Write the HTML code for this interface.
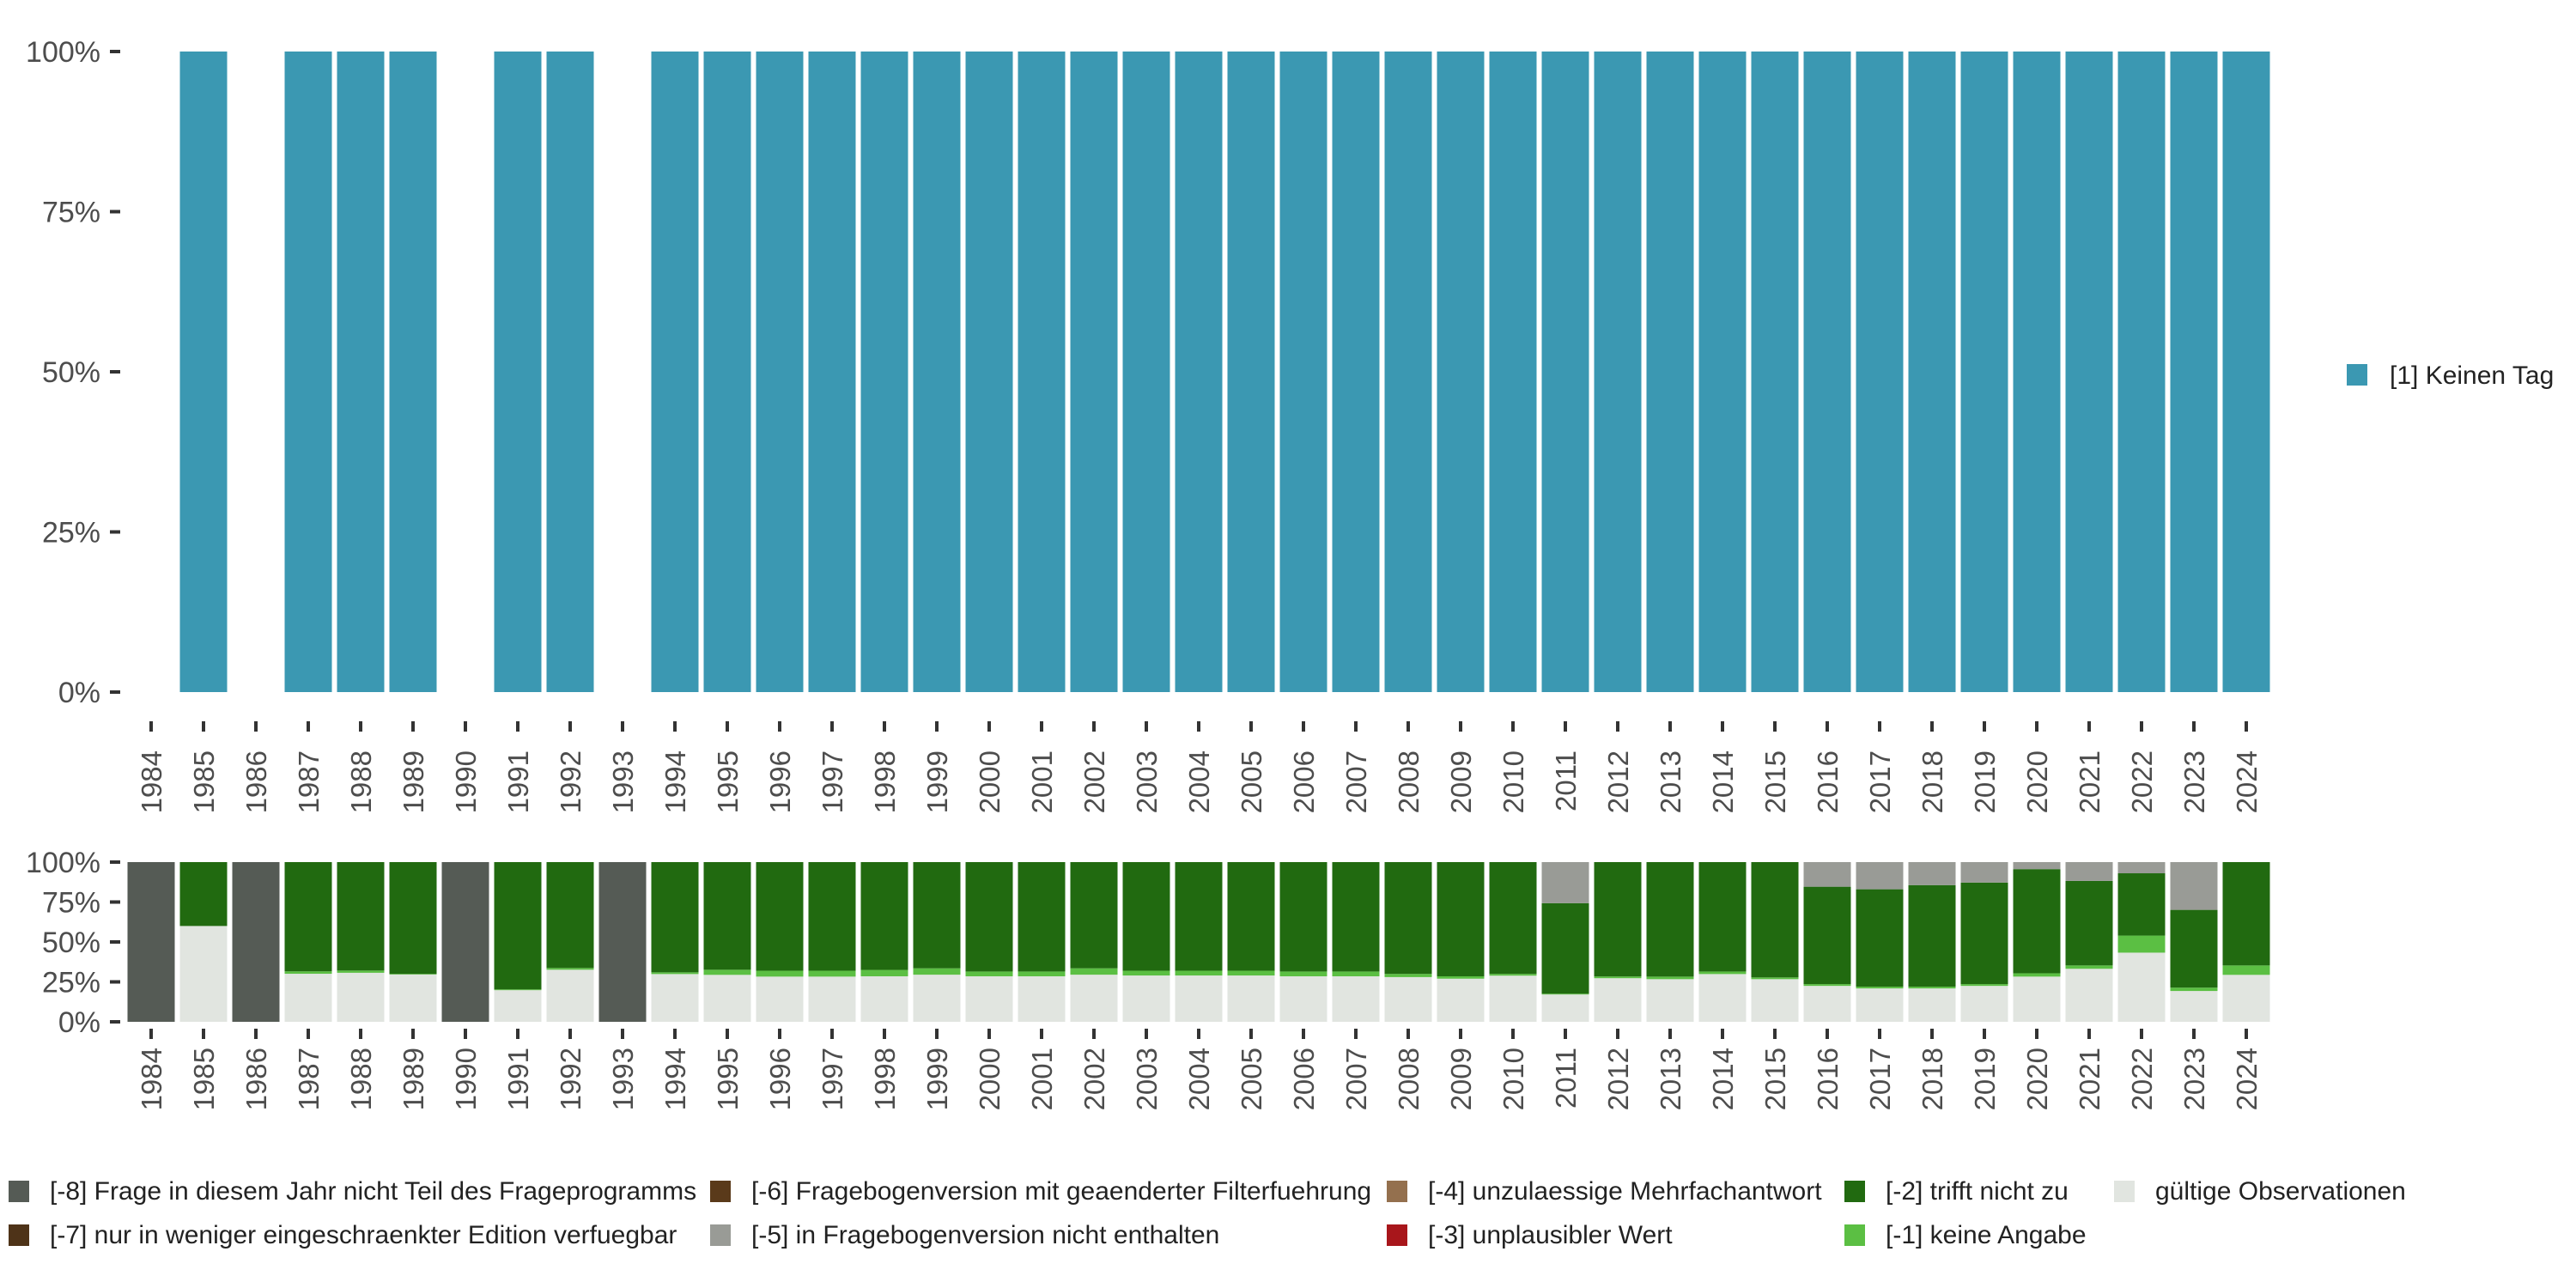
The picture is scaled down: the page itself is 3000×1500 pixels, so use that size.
<!DOCTYPE html>
<html><head><meta charset="utf-8"><style>
html,body{margin:0;padding:0;background:#fff;}
svg{display:block;font-family:"Liberation Sans",sans-serif;}
</style></head><body>
<svg id="chart" width="3000" height="1500" viewBox="0 0 3000 1500" xmlns="http://www.w3.org/2000/svg">
<g id="topChart"></g>
<g id="botChart"></g>
<g id="legR">
  <rect x="2733" y="424" width="24" height="25" fill="#3B98B2"/>
  <text x="2783" y="447" font-size="30" fill="#222">[1] Keinen Tag</text>
</g>
<g id="legB"></g>
</svg>
<script>
const years = [1984,1985,1986,1987,1988,1989,1990,1991,1992,1993,1994,1995,1996,1997,1998,1999,2000,2001,2002,2003,2004,2005,2006,2007,2008,2009,2010,2011,2012,2013,2014,2015,2016,2017,2018,2019,2020,2021,2022,2023,2024];
const topValues = [0,100,0,100,100,100,0,100,100,0,100,100,100,100,100,100,100,100,100,100,100,100,100,100,100,100,100,100,100,100,100,100,100,100,100,100,100,100,100,100,100];
const tickLabels = ["0%","25%","50%","75%","100%"];
const tickValues = [0,25,50,75,100];
const valid = [0,60,0,30.1,30.7,29.6,0,19.8,32.6,0,29.9,29.4,28.3,28.3,28.5,29.5,28.5,28.5,29.5,29,29,29,28.5,28.5,28,27,28.9,17.1,27.3,26.7,29.9,26.7,22.5,20.9,20.9,22.5,28.3,33.2,43.3,19.3,29.4];
const noAnswer = [0,0,0,1.5,1.4,0.4,0,0.5,1.1,0,1.1,3.2,3.7,3.7,4,4,3,3,4,3,3,3,3,3,2,1.5,1.1,0.5,1.1,1.6,1.6,1.1,1.1,1.1,1.1,1.1,2.1,2.1,10.7,2.1,5.9];
const notApplies = [0,40,0,68.4,67.9,70,0,79.7,66.3,0,69,67.4,68,68,67.5,66.5,68.5,68.5,66.5,68,68,68,68.5,68.5,70,71.5,70,56.7,71.6,71.7,68.5,72.2,61,61,63.6,63.6,65.2,52.9,39,48.7,64.7];
const notInVersion = [0,0,0,0,0,0,0,0,0,0,0,0,0,0,0,0,0,0,0,0,0,0,0,0,0,0,0,25.7,0,0,0,0,15.4,17,14.4,12.8,4.4,11.8,7,29.9,0];
const notInProgram = [100,0,100,0,0,0,100,0,0,100,0,0,0,0,0,0,0,0,0,0,0,0,0,0,0,0,0,0,0,0,0,0,0,0,0,0,0,0,0,0,0];
const seriesNames = ["valid","no-answer","does-not-apply","not-in-version","not-in-program"];
const seriesData = [valid,noAnswer,notApplies,notInVersion,notInProgram];
const seriesColors = ["#E1E5E0","#5BBF43","#216A10","#999B96","#555B55"];

const NS="http://www.w3.org/2000/svg";
function el(tag,attrs,parent){const e=document.createElementNS(NS,tag);for(const k in attrs)e.setAttribute(k,attrs[k]);parent.appendChild(e);return e;}
const x0=176, step=61.0, bw=55;
function xs(i){return x0+i*step;}
function yTop(v){return 806-v*7.46;}
function yBot(v){return 1190-v*1.86;}

function axes(g,yf,tickY0,labelY,prefix){
  tickValues.forEach((v,i)=>{
    const t=el('text',{x:117,y:yf(v)+12,'text-anchor':'end','font-size':34,fill:'#4d4d4d'},g);
    t.textContent=tickLabels[i];
    
    
    const l=el('line',{x1:128,x2:140,y1:yf(v),y2:yf(v),stroke:'#333','stroke-width':4},g);
    
    
  });
  years.forEach((yr,i)=>{
    const cx=xs(i);
    const l=el('line',{x1:cx,x2:cx,y1:tickY0,y2:tickY0+12,stroke:'#333','stroke-width':4},g);
    
    
    const t=el('text',{x:0,y:0,'text-anchor':'end','font-size':33,fill:'#4d4d4d',transform:`translate(${cx+12},${labelY}) rotate(-90)`},g);
    t.textContent=yr;
    
    
  });
}
const topG=document.getElementById('topChart');
axes(topG,yTop,840,874,'top');
years.forEach((yr,i)=>{
  if(topValues[i]<=0)return;
  const r=el('rect',{x:xs(i)-bw/2,y:yTop(topValues[i]),width:bw,height:yTop(0)-yTop(topValues[i]),fill:'#3B98B2'},topG);
  
  
});
const botG=document.getElementById('botChart');
axes(botG,yBot,1198,1220,'bottom');
years.forEach((yr,i)=>{
  let cum=0;
  seriesData.forEach((s,k)=>{
    const v=s[i]; if(v<=0)return;
    const r=el('rect',{x:xs(i)-bw/2,y:yBot(cum+v),width:bw,height:yBot(cum)-yBot(cum+v),fill:seriesColors[k]},botG);
    
    
    cum+=v;
  });
});
const legItems=[
 [10,1387,"#555B55","[-8] Frage in diesem Jahr nicht Teil des Frageprogramms"],
 [10,1438,"#4E3318","[-7] nur in weniger eingeschraenkter Edition verfuegbar"],
 [827,1387,"#5A3A1A","[-6] Fragebogenversion mit geaenderter Filterfuehrung"],
 [827,1438,"#999B96","[-5] in Fragebogenversion nicht enthalten"],
 [1615,1387,"#94704E","[-4] unzulaessige Mehrfachantwort"],
 [1615,1438,"#A8161B","[-3] unplausibler Wert"],
 [2148,1387,"#216A10","[-2] trifft nicht zu"],
 [2148,1438,"#5BBF43","[-1] keine Angabe"],
 [2462,1387,"#E1E5E0","gültige Observationen"]];
const legB=document.getElementById('legB');
legItems.forEach(it=>{
  const r=el('rect',{x:it[0],y:it[1]-12,width:24,height:25,fill:it[2]},legB);
  
  
  const t=el('text',{x:it[0]+48,y:it[1]+10,'font-size':30,fill:'#222'},legB);
  t.textContent=it[3];
  
  
});
</script>
</body></html>
